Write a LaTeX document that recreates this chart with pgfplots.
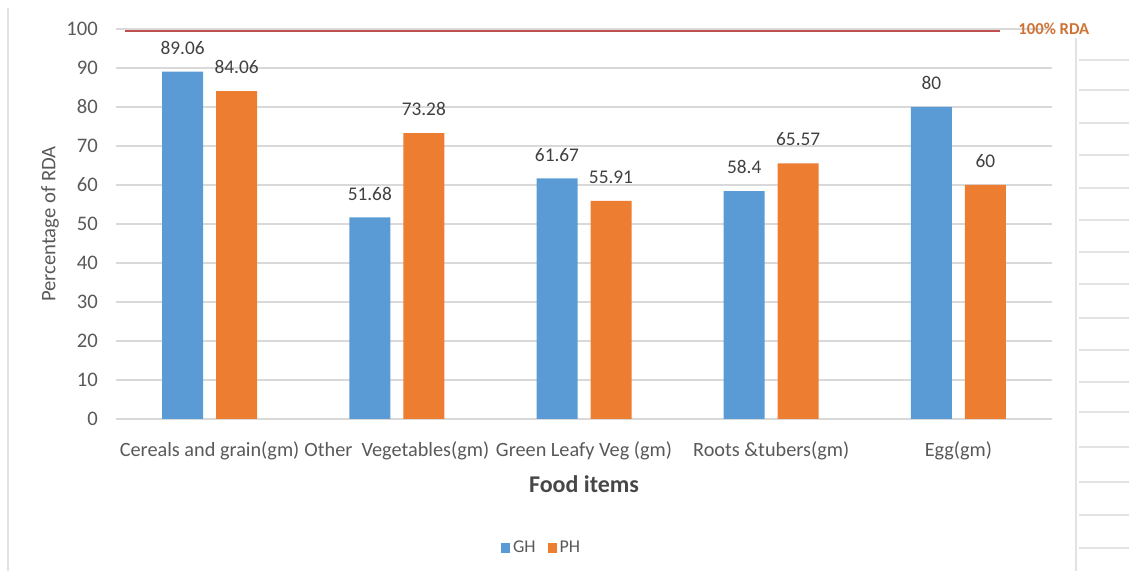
\documentclass[border=0pt]{standalone}
\usepackage{fontspec}
\setmainfont{Carlito}
\usepackage{pgfplots}
\pgfplotsset{compat=1.18}

\definecolor{ghblue}{HTML}{5B9BD5}
\definecolor{phorange}{HTML}{ED7D31}
\definecolor{gridgray}{HTML}{D9D9D9}
\definecolor{textgray}{HTML}{595959}
\definecolor{labelgray}{HTML}{404040}
\definecolor{rdared}{HTML}{C0504D}
\definecolor{rdaorange}{HTML}{C55A11}
\definecolor{framegray}{HTML}{E3E3E3}

\begin{document}
\begin{tikzpicture}
\path[use as bounding box] (0pt,0pt) rectangle (846.75pt,428.25pt);
% worksheet borders around the chart object (1 px = 0.75pt)
\begin{scope}[x=0.75pt,y=0.75pt]
\draw[framegray, line width=1.2pt] (8,0) -- (8,563);
\draw[framegray, line width=1.2pt] (1076,0) -- (1076,533);
\foreach \yy in {60,90,123,155,188,220,252,284,318,350,382,412,447,482,515,548}
  \draw[framegray, line width=0.8pt] (1079,571-\yy) -- (1129,571-\yy);
\end{scope}

\begin{axis}[
  at={(87pt,114pt)}, anchor=south west,
  scale only axis, width=702pt, height=292.5pt,
  xmin=-0.5, xmax=4.5, ymin=0, ymax=100,
  ytick={0,10,...,100},
  xtick={0,1,2,3,4},
  xticklabels={Cereals and grain(gm), Other\ \ Vegetables(gm), Green Leafy Veg (gm), Roots \&tubers(gm), Egg(gm)},
  axis line style={draw=none},
  major tick length=0pt,
  ymajorgrids, grid style={gridgray, line width=0.9pt},
  /pgf/number format/assume math mode=true,
  tick label style={font=\fontsize{15.5}{18}\selectfont, text=textgray, inner sep=0pt},
  yticklabel style={anchor=east, xshift=-13.5pt},
  xticklabel style={anchor=base, yshift=-28pt, font=\fontsize{15.2}{18}\selectfont},
  xlabel={\textbf{Food items}},
  xlabel style={at={(axis description cs:0.5,-0.167)}, anchor=center,
                font=\fontsize{18}{21}\selectfont, text=textgray!80!black},
  ylabel={Percentage of RDA},
  ylabel style={at={(axis description cs:-0.0705,0.5)}, anchor=center,
                font=\fontsize{15.5}{18}\selectfont, text=textgray},
  legend style={at={(axis description cs:0.455,-0.331)}, anchor=center,
                draw=none, fill=none, font=\fontsize{13.5}{15}\selectfont,
                text=textgray, legend columns=2,
                /tikz/every even column/.append style={column sep=7pt}},
  legend image code/.code={\fill[#1] (0pt,-3.5pt) rectangle (7pt,3.5pt);},
  clip=false,
]
% GH
\addplot[ybar, bar width=30.75pt, bar shift=-20.25pt, fill=ghblue, draw=none,
  nodes near coords,
  every node near coord/.append style={anchor=south, inner sep=0pt,
     xshift=-20.25pt, yshift=12.75pt,
     font=\fontsize{14.5}{17}\selectfont, text=labelgray}]
  coordinates {(0,89.06) (1,51.68) (2,61.67) (3,58.4) (4,80)};
\addlegendentry{GH}
% PH
\addplot[ybar, bar width=30.75pt, bar shift=20.25pt, fill=phorange, draw=none,
  nodes near coords,
  every node near coord/.append style={anchor=south, inner sep=0pt,
     xshift=20.25pt, yshift=12.75pt,
     font=\fontsize{14.5}{17}\selectfont, text=labelgray}]
  coordinates {(0,84.06) (1,73.28) (2,55.91) (3,65.57) (4,60)};
\addlegendentry{PH}
% 100% RDA reference line
\addplot[sharp plot, no marks, rdared, line width=1.4pt, forget plot]
  coordinates {(-0.452,99.5) (4.222,99.5)};
\node[font=\bfseries\fontsize{12.5}{15}\selectfont, text=rdaorange!85!white, anchor=center]
  at (axis cs:4.51,100) {100\% RDA};
\end{axis}
\end{tikzpicture}
\end{document}
